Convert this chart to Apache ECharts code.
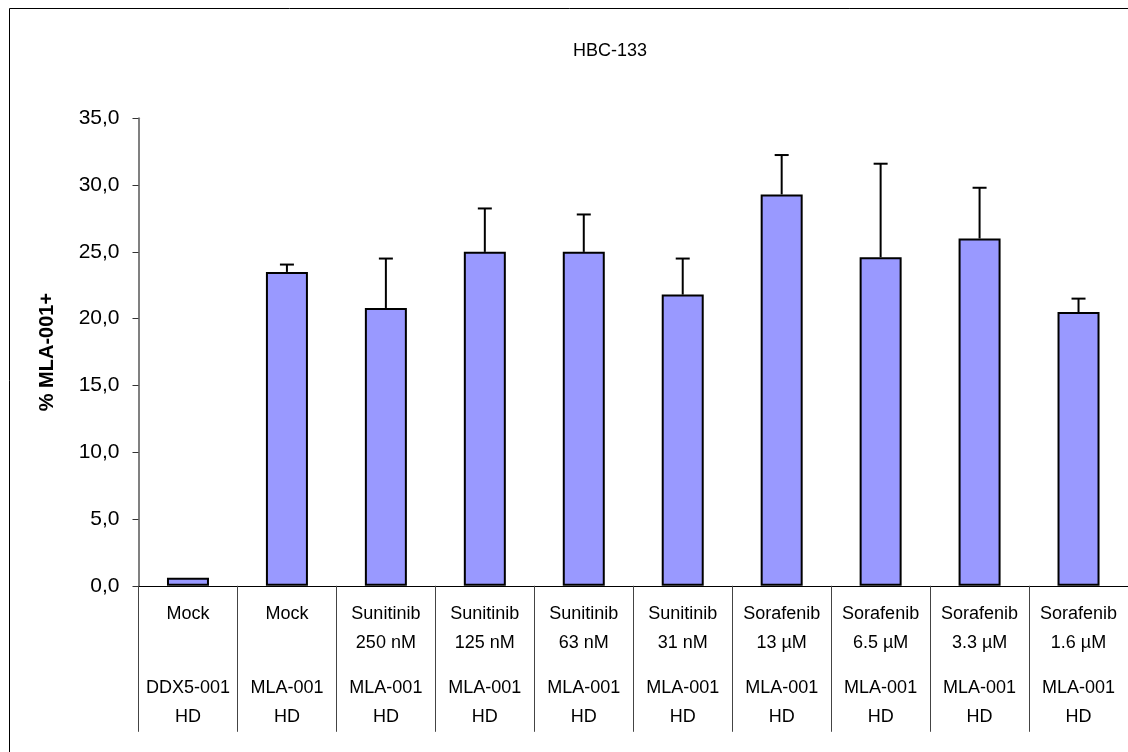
<!DOCTYPE html>
<html>
<head>
<meta charset="utf-8">
<title>HBC-133</title>
<script src="https://cdn.jsdelivr.net/npm/echarts@6/dist/echarts.min.js"></script>
<style>
  html, body { margin: 0; padding: 0; background: #fff; }
  #chart { width: 1128px; height: 752px; }
</style>
</head>
<body>
<div id="chart"></div>
<script>
// Treatment (two lines) and antigen (two lines) for each bar
const treatments = ['Mock', 'Mock', 'Sunitinib', 'Sunitinib', 'Sunitinib', 'Sunitinib', 'Sorafenib', 'Sorafenib', 'Sorafenib', 'Sorafenib'];
const doses = ['', '', '250 nM', '125 nM', '63 nM', '31 nM', '13 µM', '6.5 µM', '3.3 µM', '1.6 µM'];
const antigens = ['DDX5-001', 'MLA-001', 'MLA-001', 'MLA-001', 'MLA-001', 'MLA-001', 'MLA-001', 'MLA-001', 'MLA-001', 'MLA-001'];
const antigenSuffix = ['HD', 'HD', 'HD', 'HD', 'HD', 'HD', 'HD', 'HD', 'HD', 'HD'];

// % MLA-001+ (mean) and upper error (SD)
const means = [0.6, 23.5, 20.8, 25.0, 25.0, 21.8, 29.3, 24.6, 26.0, 20.5];
const errors = [0, 0.55, 3.7, 3.25, 2.8, 2.7, 2.95, 7.0, 3.8, 1.0];

const yTicks = [0, 5, 10, 15, 20, 25, 30, 35];

const FONT = 'Arial, "Liberation Sans", sans-serif';
const categories = treatments.map((t, i) => i);

const chart = echarts.init(document.getElementById('chart'), null, { renderer: 'canvas' });

chart.setOption({
  animation: false,
  backgroundColor: '#fff',
  title: {
    text: 'HBC-133',
    left: 605,
    top: 37,
    textAlign: 'center',
    textStyle: { fontFamily: FONT, fontSize: 18, fontWeight: 'normal', color: '#000' }
  },
  graphic: [{
    type: 'rect',
    silent: true,
    z: -10,
    shape: { x: 9.5, y: 8.5, width: 1300, height: 900 },
    style: { fill: 'none', stroke: '#000', lineWidth: 1 }
  }],
  grid: { left: 138.5, right: 0, top: 118.3, bottom: 166.2, containLabel: false },
  xAxis: {
    type: 'category',
    data: categories,
    boundaryGap: true,
    axisLine: { show: true, lineStyle: { color: '#000', width: 1 } },
    axisTick: { show: true, inside: false, length: 146, lineStyle: { color: '#444', width: 1 } },
    axisLabel: {
      interval: 0,
      hideOverlap: false,
      margin: 14,
      formatter: (v, i) => {
        const d = doses[i] || ' ';
        return '{a|' + treatments[i] + '}\n{a|' + d + '}\n{s| }\n{a|' + antigens[i] + '}\n{a|' + antigenSuffix[i] + '}';
      },
      rich: {
        a: { fontFamily: FONT, fontSize: 18, lineHeight: 29, color: '#000', align: 'center' },
        s: { fontSize: 4, lineHeight: 16 }
      }
    },
    splitLine: { show: false }
  },
  yAxis: {
    type: 'value',
    min: yTicks[0],
    max: yTicks[yTicks.length - 1],
    interval: 5,
    name: '% MLA-001+',
    nameLocation: 'middle',
    nameGap: 81,
    nameRotate: 90,
    nameTextStyle: { fontFamily: FONT, fontSize: 20, fontWeight: 'bold', color: '#000' },
    axisLine: { show: true, lineStyle: { color: '#808080', width: 2 } },
    axisTick: { show: true, inside: false, length: 6, lineStyle: { color: '#333', width: 1 } },
    axisLabel: {
      margin: 19,
      fontFamily: FONT,
      fontSize: 21,
      color: '#000',
      formatter: v => v.toFixed(1).replace('.', ',')
    },
    splitLine: { show: false }
  },
  series: [
    {
      type: 'bar',
      data: means,
      barWidth: 42,
      itemStyle: { color: '#9999FF', borderColor: '#000', borderWidth: 2 },
      z: 2
    },
    {
      type: 'custom',
      z: 3,
      data: means.map((m, i) => [i, m, errors[i]]),
      renderItem: (params, api) => {
        const idx = api.value(0);
        const m = api.value(1);
        const e = api.value(2);
        if (!e) return null;
        const base = api.coord([idx, m]);
        const top = api.coord([idx, m + e]);
        const half = 7;
        const style = { stroke: '#000', lineWidth: 2, fill: null };
        return {
          type: 'group',
          children: [
            { type: 'line', shape: { x1: base[0], y1: base[1], x2: top[0], y2: top[1] }, style },
            { type: 'line', shape: { x1: top[0] - half, y1: top[1], x2: top[0] + half, y2: top[1] }, style }
          ]
        };
      }
    }
  ]
});
</script>
</body>
</html>
